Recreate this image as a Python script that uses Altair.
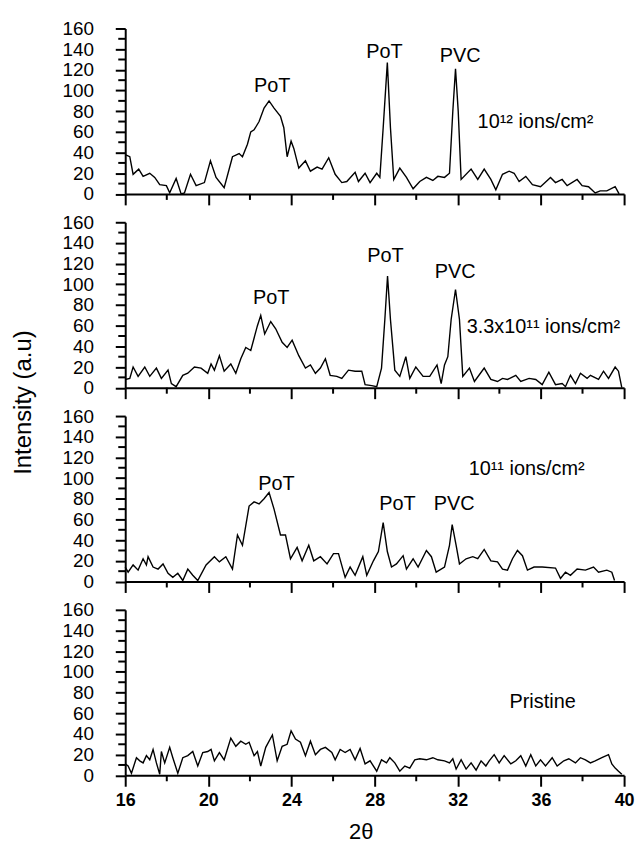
import altair as alt
import pandas as pd

FONT = "Liberation Sans"

# ---- axis ticks ----
X_MAJOR = list(range(16, 41, 4))
X_MINOR = list(range(18, 39, 4))
Y_MAJOR = list(range(0, 161, 20))
Y_MINOR = list(range(10, 151, 20))

# ---- 10^12 ions/cm2 ----
x1 = [16.00, 16.22, 16.38, 16.65, 16.86, 17.18, 17.42, 17.66, 17.98, 18.14, 18.45, 18.69, 18.85, 19.14,
      19.41, 19.81, 20.10, 20.37, 20.76, 21.16, 21.48, 21.64, 21.88, 22.04, 22.20, 22.44, 22.68, 22.92,
      23.16, 23.47, 23.63, 23.79, 23.98, 24.11, 24.35, 24.67, 24.91, 25.23, 25.47, 25.79, 26.10, 26.42,
      26.66, 27.06, 27.22, 27.54, 27.78, 28.10, 28.25, 28.41, 28.61, 28.76, 28.92, 29.21, 29.53, 29.85,
      30.17, 30.49, 30.80, 31.04, 31.36, 31.60, 31.76, 31.89, 32.02, 32.16, 32.64, 32.96, 33.27, 33.59,
      33.83, 34.15, 34.47, 34.71, 34.95, 35.27, 35.59, 35.98, 36.46, 36.70, 37.02, 37.26, 37.74, 37.98,
      38.29, 38.61, 38.85, 39.17, 39.57, 39.76]
y1 = [38, 36, 19, 24, 17, 20, 16, 9, 8, 1, 15, 0, 1, 19, 8, 11, 32, 16, 6, 36, 39, 36, 48, 60, 62, 70,
      83, 90, 83, 75, 64, 36, 51, 44, 25, 32, 22, 26, 24, 35, 19, 11, 12, 21, 12, 20, 11, 20, 16, 64,
      127, 64, 14, 25, 16, 5, 12, 16, 13, 17, 16, 20, 80, 121, 80, 14, 24, 14, 24, 14, 4, 19, 22, 20,
      12, 17, 9, 7, 16, 11, 14, 8, 14, 8, 7, 1, 3, 3, 7, 0]
ann1_x = [23.07, 28.47, 32.11, 35.74]
ann1_y = [104, 137, 133, 70]
ann1_t = ["PoT", "PoT", "PVC", "10¹² ions/cm²"]

# ---- 3.3x10^11 ions/cm2 ----
x2 = [16.00, 16.22, 16.38, 16.62, 16.94, 17.18, 17.50, 17.74, 18.06, 18.22, 18.45, 18.77, 19.01, 19.33,
      19.65, 19.97, 20.13, 20.29, 20.53, 20.76, 21.08, 21.32, 21.56, 21.80, 22.04, 22.36, 22.52, 22.71,
      23.00, 23.24, 23.55, 23.79, 24.03, 24.35, 24.67, 24.91, 25.15, 25.39, 25.63, 25.86, 26.18, 26.42,
      26.74, 27.06, 27.38, 27.54, 27.86, 28.10, 28.33, 28.49, 28.62, 28.76, 28.97, 29.21, 29.50, 29.69,
      29.98, 30.33, 30.65, 31.00, 31.20, 31.36, 31.52, 31.68, 31.89, 32.08, 32.24, 32.56, 32.80, 33.27,
      33.59, 33.91, 34.15, 34.39, 34.79, 35.03, 35.43, 35.75, 36.06, 36.38, 36.70, 37.02, 37.18, 37.42,
      37.66, 37.90, 38.22, 38.38, 38.77, 39.01, 39.25, 39.57, 39.73, 39.89]
y2 = [8, 9, 20, 11, 20, 11, 19, 9, 17, 4, 1, 12, 14, 20, 19, 14, 23, 17, 31, 16, 23, 14, 28, 39, 36, 60,
      70, 52, 64, 57, 44, 39, 46, 31, 19, 22, 14, 19, 28, 12, 11, 9, 17, 16, 16, 3, 2, 1, 19, 66, 108,
      66, 17, 11, 30, 9, 20, 11, 11, 22, 4, 22, 30, 66, 95, 66, 11, 19, 6, 19, 8, 6, 9, 8, 12, 6, 9, 8,
      3, 15, 3, 4, 1, 12, 4, 14, 9, 12, 8, 16, 9, 20, 16, 0]
ann2_x = [23.02, 28.52, 31.87, 36.12]
ann2_y = [87, 127, 112, 59]
ann2_t = ["PoT", "PoT", "PVC", "3.3x10¹¹ ions/cm²"]

# ---- 10^11 ions/cm2 ----
x3 = [16.00, 16.14, 16.38, 16.62, 16.86, 17.02, 17.10, 17.34, 17.58, 17.82, 18.06, 18.29, 18.53, 18.77,
      19.01, 19.25, 19.49, 19.89, 20.29, 20.53, 20.84, 21.16, 21.40, 21.64, 21.96, 22.20, 22.44, 22.68,
      22.92, 23.16, 23.47, 23.71, 23.95, 24.27, 24.51, 24.83, 25.07, 25.39, 25.71, 26.02, 26.26, 26.58,
      26.82, 27.06, 27.43, 27.62, 27.94, 28.18, 28.41, 28.61, 28.81, 29.05, 29.37, 29.53, 29.85, 30.09,
      30.49, 30.73, 30.96, 31.36, 31.60, 31.73, 31.92, 32.08, 32.40, 32.72, 32.96, 33.27, 33.59, 33.91,
      34.15, 34.39, 34.63, 34.87, 35.11, 35.35, 35.67, 36.06, 36.70, 36.94, 37.18, 37.42, 37.74, 38.14,
      38.53, 38.77, 39.17, 39.41, 39.54]
y3 = [14, 9, 16, 11, 22, 16, 24, 14, 12, 17, 8, 4, 8, 1, 12, 6, 1, 16, 24, 19, 24, 12, 45, 35, 73, 77,
      75, 80, 86, 70, 45, 45, 22, 33, 20, 35, 20, 24, 17, 27, 27, 4, 14, 6, 24, 6, 20, 29, 57, 29, 14,
      17, 25, 12, 22, 14, 30, 24, 9, 14, 35, 55, 35, 17, 22, 24, 22, 31, 20, 19, 12, 11, 22, 30, 25, 11,
      14, 14, 13, 3, 9, 6, 12, 11, 14, 9, 11, 9, 1]
ann3_x = [23.27, 29.10, 31.82, 35.31]
ann3_y = [94, 75, 75, 109]
ann3_t = ["PoT", "PoT", "PVC", "10¹¹ ions/cm²"]

# ---- Pristine ----
x4 = [16.00, 16.14, 16.30, 16.54, 16.70, 16.86, 17.02, 17.18, 17.34, 17.50, 17.66, 17.74, 17.90, 18.14,
      18.29, 18.53, 18.77, 19.01, 19.25, 19.49, 19.73, 19.97, 20.13, 20.29, 20.53, 20.76, 21.08, 21.32,
      21.56, 21.80, 21.96, 22.20, 22.36, 22.52, 22.76, 23.08, 23.31, 23.55, 23.79, 23.98, 24.19, 24.43,
      24.67, 24.91, 25.15, 25.39, 25.63, 25.94, 26.10, 26.34, 26.58, 26.82, 27.06, 27.30, 27.54, 27.78,
      28.10, 28.33, 28.57, 28.73, 28.97, 29.21, 29.45, 29.69, 29.93, 30.17, 30.49, 30.80, 31.04, 31.36,
      31.60, 31.76, 31.92, 32.16, 32.40, 32.64, 32.88, 33.12, 33.35, 33.51, 33.75, 33.99, 34.23, 34.55,
      34.79, 35.03, 35.27, 35.51, 35.75, 35.98, 36.22, 36.54, 36.78, 37.10, 37.34, 37.66, 37.90, 38.14,
      38.38, 38.61, 38.93, 39.25, 39.41, 39.57, 39.73, 39.89]
y4 = [11, 9, 2, 17, 14, 12, 19, 15, 25, 12, 1, 23, 12, 27, 17, 2, 17, 19, 23, 9, 22, 23, 25, 14, 22, 15,
      36, 28, 33, 30, 32, 19, 23, 9, 27, 39, 14, 28, 30, 43, 35, 32, 19, 33, 20, 25, 27, 22, 15, 25, 22,
      25, 15, 26, 11, 14, 4, 15, 12, 17, 12, 4, 9, 7, 15, 16, 15, 17, 15, 14, 12, 16, 6, 15, 6, 12, 5,
      14, 9, 14, 20, 12, 19, 11, 14, 19, 9, 20, 9, 15, 9, 17, 9, 14, 16, 12, 17, 15, 12, 14, 17, 20, 11,
      7, 4, 1]
ann4_x = [36.08]
ann4_y = [71]
ann4_t = ["Pristine"]

W, H = 502, 166.5


def panel(xs, ys, ax, ay, at, bottom=False, ytitle=False):
    line_df = pd.DataFrame({"theta2": xs, "intensity": ys})
    ann_df = pd.DataFrame({"theta2": ax, "intensity": ay, "label": at})
    ymin_df = pd.DataFrame({"intensity": Y_MINOR})
    xmin_df = pd.DataFrame({"theta2": X_MINOR})
    xsc = alt.Scale(domain=[16, 40], nice=False, zero=False)
    ysc = alt.Scale(domain=[0, 160], nice=False)

    common_x = dict(values=X_MAJOR, grid=False, domainWidth=2, domainColor="black",
                    tickColor="black", tickWidth=2, tickSize=11,
                    labelFlush=False, labelOverlap=False)
    if bottom:
        xaxis = alt.Axis(labels=True, labelFont=FONT, labelFontSize=18, labelFontWeight="bold",
                         labelColor="black", labelPadding=5,
                         titleFont=FONT, titleFontSize=22,
                         titleFontWeight="normal", titleColor="black",
                         titleX=237, titleY=57, titleBaseline="middle", titleAlign="center",
                         **common_x)
        xtitle = "2θ"
    else:
        xaxis = alt.Axis(labels=False, **common_x)
        xtitle = ""

    common_y = dict(values=Y_MAJOR, grid=False, domainWidth=2, domainColor="black",
                    tickColor="black", tickWidth=2, tickSize=10,
                    labelFont=FONT, labelFontSize=19, labelColor="black",
                    labelPadding=22, labelFlush=False, labelOverlap=False)
    if ytitle:
        yaxis = alt.Axis(titleFont=FONT, titleFontSize=24,
                         titleFontWeight="normal", titleColor="black", titleAngle=270,
                         titleX=-102, titleY=181, titleAlign="center", titleBaseline="middle",
                         **common_y)
        ytitle_txt = "Intensity (a.u)"
    else:
        yaxis = alt.Axis(**common_y)
        ytitle_txt = ""

    X = alt.X("theta2:Q", scale=xsc, axis=xaxis, title=xtitle)
    Y = alt.Y("intensity:Q", scale=ysc, axis=yaxis, title=ytitle_txt)

    line = alt.Chart(line_df).mark_line(color="black", strokeWidth=1.4).encode(
        x=X, y=Y, order="theta2:Q")
    text = alt.Chart(ann_df).mark_text(font=FONT, fontSize=20, color="black",
                                       align="center", baseline="middle").encode(
        x=X, y=Y, text="label:N")
    yminor = alt.Chart(ymin_df).mark_rule(color="black", strokeWidth=2).encode(
        y=Y, x=alt.value(-7), x2=alt.value(0))
    xminor = alt.Chart(xmin_df).mark_rule(color="black", strokeWidth=2).encode(
        x=X, y=alt.value(H), y2=alt.value(H + 6))
    return alt.layer(line, text, yminor, xminor).properties(width=W, height=H)


p1 = panel(x1, y1, ann1_x, ann1_y, ann1_t)
p2 = panel(x2, y2, ann2_x, ann2_y, ann2_t, ytitle=True)
p3 = panel(x3, y3, ann3_x, ann3_y, ann3_t)
p4 = panel(x4, y4, ann4_x, ann4_y, ann4_t, bottom=True)

chart = alt.vconcat(p1, p2, p3, p4, spacing=28, bounds="flush").properties(
    padding={"left": 12, "top": 17, "right": 4, "bottom": 2},
    background="white",
).configure_view(strokeWidth=0)

chart.save("out.html", embed_options={"renderer": "svg", "actions": False})
